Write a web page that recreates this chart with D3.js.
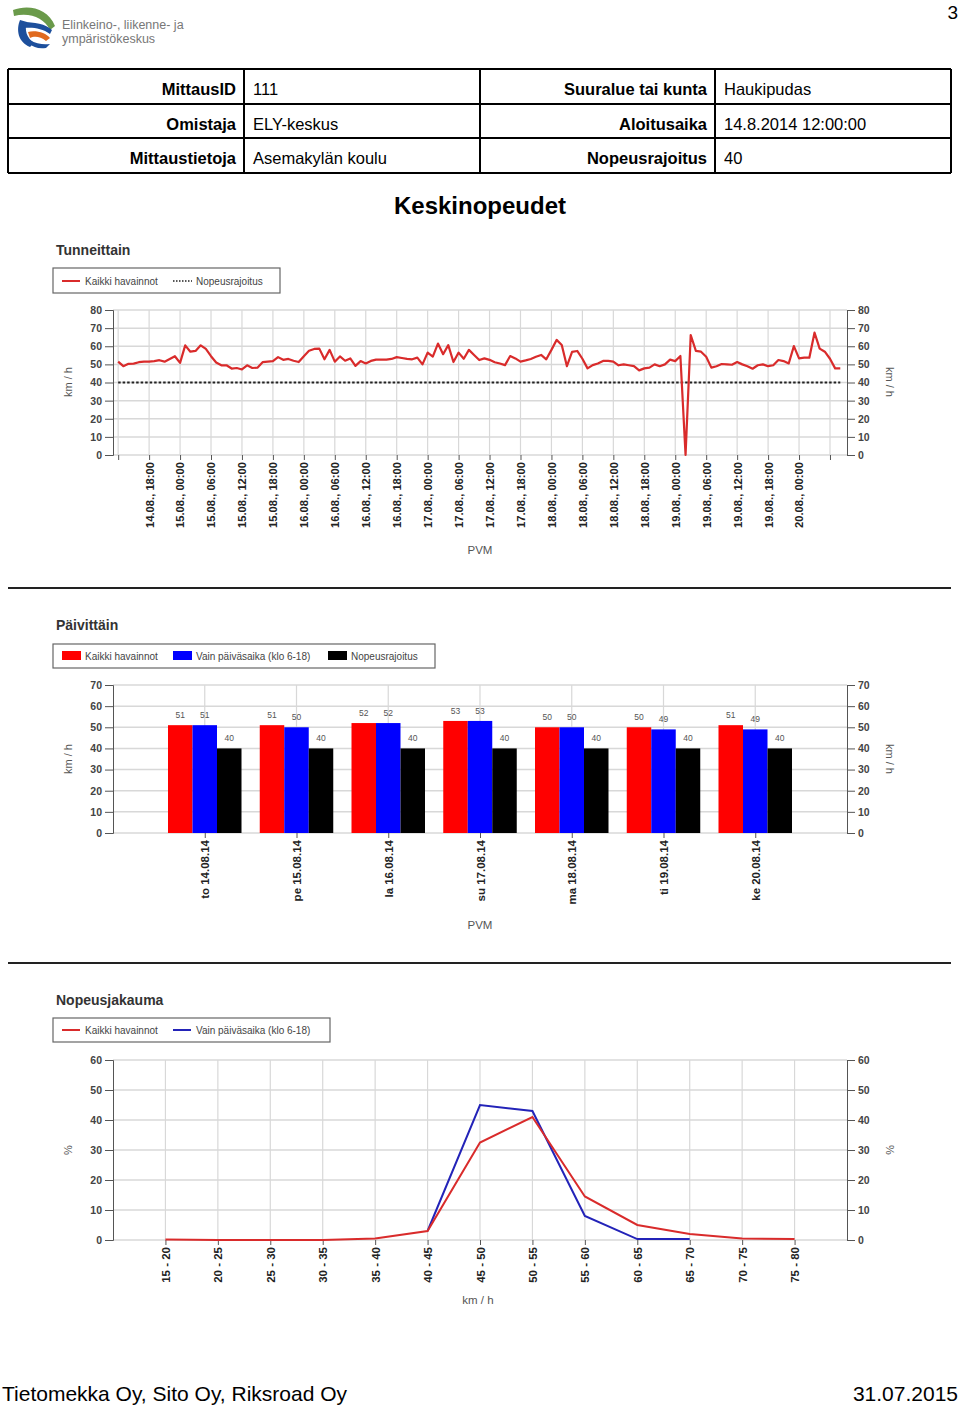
<!DOCTYPE html>
<html><head><meta charset="utf-8">
<script src="https://cdn.jsdelivr.net/npm/d3@7"></script>
<style>
html,body{margin:0;padding:0;background:#fff;}
svg{display:block;font-family:"Liberation Sans",Arial,sans-serif;}
</style></head>
<body>
<svg id="page" width="960" height="1407"></svg>
<script>
// ---------- DATA ----------
const tableRows = [
  ["MittausID","111","Suuralue tai kunta","Haukipudas"],
  ["Omistaja","ELY-keskus","Aloitusaika","14.8.2014 12:00:00"],
  ["Mittaustietoja","Asemakylän koulu","Nopeusrajoitus","40"]
];
// Hourly mean speed from 14.08 12:00 to 20.08 08:00
const hourlySpeed = [
  51.5,49,50.3,50.4,51.2,51.5,51.5,51.8,52.3,51.5,53,54.5,
  50.8,60.5,57,57.4,60.5,58.5,54.5,51,49.5,49.5,47.7,48,
  47.2,49.5,48,48.2,51.2,51.5,51.8,54,52.5,53,52,51.3,
  54.5,57.5,58.5,58.7,52.8,58,51.5,54.4,52,53.3,49.2,51.8,
  50.5,51.9,52.6,52.6,52.6,53,54,53.5,53,52.8,53.7,50,
  56.5,54.3,61.5,55.6,60.6,51.3,56.5,53.1,58,55.2,52.4,53.3,
  52.5,51.2,50.5,49.6,54.6,53.3,51.5,52.2,53,54.2,55.2,52.8,
  58,63.5,60.7,49,56.9,57.4,53.1,47.8,49.6,50.5,51.9,51.9,
  51.5,49.5,50,49.5,49,46.7,47.8,48.2,50,49,50,52.6,
  51.8,54.6,0,66.2,57.4,57,54.2,48.2,49,50.2,50,49.8,
  51.3,50,49,47.6,49.5,50,49,49.5,52.4,51.8,50.5,60.1,
  53.3,53.7,53.7,67.5,58.7,57,53.1,47.8,47.8
];
const speedLimit = 40;
const hourTickLabels = ["","14.08., 18:00","15.08., 00:00","15.08., 06:00","15.08., 12:00","15.08., 18:00",
  "16.08., 00:00","16.08., 06:00","16.08., 12:00","16.08., 18:00","17.08., 00:00","17.08., 06:00",
  "17.08., 12:00","17.08., 18:00","18.08., 00:00","18.08., 06:00","18.08., 12:00","18.08., 18:00",
  "19.08., 00:00","19.08., 06:00","19.08., 12:00","19.08., 18:00","20.08., 00:00",""];
const hourTickStep = 6;

const days = ["to 14.08.14","pe 15.08.14","la 16.08.14","su 17.08.14","ma 18.08.14","ti 19.08.14","ke 20.08.14"];
const dailyAll = [51,51,52,53,50,50,51];
const dailyDay = [51,50,52,53,50,49,49];
const dailyLimit = [40,40,40,40,40,40,40];

const speedClasses = ["15 - 20","20 - 25","25 - 30","30 - 35","35 - 40","40 - 45","45 - 50","50 - 55","55 - 60","60 - 65","65 - 70","70 - 75","75 - 80"];
const distAll = [0.2,0,0,0,0.5,3,32.5,41,14.5,5,2,0.5,0.3];
const distDay = [null,null,null,null,null,3,45,43,8,0.3,0.3,null,null];

const ticks80 = [0,10,20,30,40,50,60,70,80];
const ticks70 = [0,10,20,30,40,50,60,70];
const ticks60 = [0,10,20,30,40,50,60];

// ---------- DRAW ----------
const svg = d3.select("#page");
const FONT = '"Liberation Sans",Arial,sans-serif';
const RED = "#d92b2b", GRID = "#d8d8d8", AX = "#555";

// Logo
const logo = svg.append("g");
logo.append("path").attr("d","M13,10 C28,4 48,8 55,26 L50,30 C44,18 30,12 14,16 Z").attr("fill","#6a9a4a");
logo.append("path").attr("d","M20,20 C16,30 18,42 30,47 L34,43 C27,38 24,30 27,22 Z").attr("fill","#1d4f9c");
logo.append("path").attr("d","M22,22 C34,22 46,24 52,30 L50,34 C42,28 32,27 24,28 Z").attr("fill","#1d4f9c");
logo.append("path").attr("d","M28,32 C36,30 46,33 50,38 L46,41 C40,36 34,36 30,38 Z").attr("fill","#e06a1f");
logo.append("path").attr("d","M30,40 C36,44 44,45 50,44 L46,48 C38,49 33,47 30,44 Z").attr("fill","#1d4f9c");
logo.append("text").attr("x",62).attr("y",29).attr("font-size",12.5).attr("fill","#777").text("Elinkeino-, liikenne- ja");
logo.append("text").attr("x",62).attr("y",43).attr("font-size",12.5).attr("fill","#777").text("ympäristökeskus");

svg.append("text").attr("x",958).attr("y",19).attr("text-anchor","end").attr("font-size",19).text("3");

// Table
const colX = [8,244,480,715,951];
const rowY = [69,104,138,173];
const tbl = svg.append("g");
tableRows.forEach((r,i)=>{
  const yb = rowY[i]+26;
  tbl.append("text").attr("x",colX[1]-8).attr("y",yb).attr("text-anchor","end").attr("font-weight","bold").attr("font-size",16.5).text(r[0]);
  tbl.append("text").attr("x",colX[1]+9).attr("y",yb).attr("font-size",16.5).text(r[1]);
  tbl.append("text").attr("x",colX[3]-8).attr("y",yb).attr("text-anchor","end").attr("font-weight","bold").attr("font-size",16.5).text(r[2]);
  tbl.append("text").attr("x",colX[3]+9).attr("y",yb).attr("font-size",16.5).text(r[3]);
});
rowY.forEach(y=>tbl.append("line").attr("x1",colX[0]).attr("x2",colX[4]).attr("y1",y).attr("y2",y).attr("stroke","#000").attr("stroke-width",2));
colX.forEach(x=>tbl.append("line").attr("x1",x).attr("x2",x).attr("y1",rowY[0]).attr("y2",rowY[3]).attr("stroke","#000").attr("stroke-width",2));

svg.append("text").attr("x",480).attr("y",214).attr("text-anchor","middle").attr("font-weight","bold").attr("font-size",24).text("Keskinopeudet");

// separators
[588,963].forEach(y=>svg.append("line").attr("x1",8).attr("x2",951).attr("y1",y).attr("y2",y).attr("stroke","#222").attr("stroke-width",2));

// helpers
function yAxes(g, y, ticks, left, right, unit, unitY){
  ticks.forEach(t=>{
    g.append("line").attr("x1",left).attr("x2",right).attr("y1",y(t)).attr("y2",y(t)).attr("stroke",GRID).attr("stroke-width",1.5);
  });
  const la = g.append("g").attr("transform",`translate(${left},0)`).call(d3.axisLeft(y).tickValues(ticks).tickSize(8).tickPadding(3));
  const ra = g.append("g").attr("transform",`translate(${right},0)`).call(d3.axisRight(y).tickValues(ticks).tickSize(8).tickPadding(3));
  [la,ra].forEach(a=>{
    a.select(".domain").attr("stroke",AX);
    a.selectAll(".tick line").attr("stroke",AX);
    a.selectAll("text").attr("font-family",FONT).attr("font-size",10.5).attr("font-weight","bold").attr("fill","#444");
  });
  g.append("text").attr("transform",`translate(72,${unitY}) rotate(-90)`).attr("text-anchor","middle").attr("font-size",11).attr("fill","#555").text(unit);
  g.append("text").attr("transform",`translate(886,${unitY}) rotate(90)`).attr("text-anchor","middle").attr("font-size",11).attr("fill","#555").text(unit);
}
function title(t,y){ svg.append("text").attr("x",56).attr("y",y).attr("font-weight","bold").attr("font-size",14).attr("fill","#333").text(t); }
function legendBox(x,y,w,h){ svg.append("rect").attr("x",x).attr("y",y).attr("width",w).attr("height",h).attr("fill","#fff").attr("stroke","#666").attr("stroke-width",1.2); }
function legText(x,y,t){ svg.append("text").attr("x",x).attr("y",y).attr("font-size",10).attr("fill","#444").text(t); }

const L = 113, R = 847;

// ---------- Chart 1: Tunneittain ----------
title("Tunneittain",255);
legendBox(53,268,227,25);
svg.append("line").attr("x1",62).attr("x2",80).attr("y1",281).attr("y2",281).attr("stroke",RED).attr("stroke-width",2);
legText(85,285,"Kaikki havainnot");
svg.append("line").attr("x1",173).attr("x2",192).attr("y1",281).attr("y2",281).attr("stroke","#222").attr("stroke-width",1.5).attr("stroke-dasharray","1.5,1.5");
legText(196,285,"Nopeusrajoitus");

const g1 = svg.append("g");
const x1 = d3.scaleLinear().domain([-1,141.3]).range([L,R]);
const y1 = d3.scaleLinear().domain([0,80]).range([455,310]);
const tickHours = hourTickLabels.map((d,i)=>i*hourTickStep);
tickHours.forEach(h=>g1.append("line").attr("x1",x1(h)).attr("x2",x1(h)).attr("y1",310).attr("y2",455).attr("stroke",GRID).attr("stroke-width",1.2));
yAxes(g1,y1,ticks80,L,R,"km / h",382);
const xa1 = g1.append("g").attr("transform","translate(0,455)").call(d3.axisBottom(x1).tickValues(tickHours).tickSize(5).tickFormat((d,i)=>hourTickLabels[i]));
xa1.select(".domain").remove();
xa1.selectAll(".tick line").attr("stroke",AX);
xa1.selectAll("text").attr("font-family",FONT).attr("font-size",11.2).attr("font-weight","bold").attr("fill","#222")
  .attr("transform","rotate(-90)").attr("text-anchor","end").attr("y",0).attr("x",0)
  .attr("dy","0.35em").attr("dx","-7");
g1.append("line").attr("x1",x1(0)).attr("x2",x1(hourlySpeed.length-1)).attr("y1",y1(speedLimit)).attr("y2",y1(speedLimit))
  .attr("stroke","#222").attr("stroke-width",2).attr("stroke-dasharray","2.5,2");
g1.append("path").datum(hourlySpeed).attr("fill","none").attr("stroke",RED).attr("stroke-width",2.2).attr("stroke-linejoin","round")
  .attr("d",d3.line().x((d,i)=>x1(i)).y(d=>y1(d)));
g1.append("text").attr("x",480).attr("y",554).attr("text-anchor","middle").attr("font-size",11.5).attr("fill","#555").text("PVM");

// ---------- Chart 2: Päivittäin ----------
title("Päivittäin",630);
legendBox(53,644,382,24);
const legItems2 = [[62,"#f00","Kaikki havainnot"],[173,"#00f","Vain päiväsaika (klo 6-18)"],[328,"#000","Nopeusrajoitus"]];
legItems2.forEach(([x,c,t])=>{
  svg.append("rect").attr("x",x).attr("y",651).attr("width",19).attr("height",9).attr("fill",c);
  legText(x+23,660,t);
});
const g2 = svg.append("g");
const x2 = d3.scalePoint().domain(days).range([L,R]).padding(1);
const y2 = d3.scaleLinear().domain([0,70]).range([833,685]);
days.forEach(d=>g2.append("line").attr("x1",x2(d)).attr("x2",x2(d)).attr("y1",685).attr("y2",833).attr("stroke",GRID).attr("stroke-width",1.2));
yAxes(g2,y2,ticks70,L,R,"km / h",759);
const bw = 24.5;
const series2 = [[dailyAll,"#f00",-1.5],[dailyDay,"#00f",-0.5],[dailyLimit,"#000",0.5]];
series2.forEach(([vals,c,off])=>{
  days.forEach((d,i)=>{
    const x = x2(d)+off*bw;
    g2.append("rect").attr("x",x).attr("y",y2(vals[i])).attr("width",bw).attr("height",y2(0)-y2(vals[i])).attr("fill",c);
    g2.append("text").attr("x",x+bw/2).attr("y",y2(vals[i])-7).attr("text-anchor","middle").attr("font-size",8.5).attr("fill","#555").text(vals[i]);
  });
});
const xa2 = g2.append("g").attr("transform","translate(0,833)").call(d3.axisBottom(x2).tickSize(5));
xa2.select(".domain").remove();
xa2.selectAll(".tick line").attr("stroke",AX);
xa2.selectAll("text").attr("font-family",FONT).attr("font-size",11.5).attr("font-weight","bold").attr("fill","#222")
  .attr("transform","rotate(-90)").attr("text-anchor","end").attr("y",0).attr("x",0).attr("dy","0.35em").attr("dx","-7");
g2.append("text").attr("x",480).attr("y",929).attr("text-anchor","middle").attr("font-size",11.5).attr("fill","#555").text("PVM");

// ---------- Chart 3: Nopeusjakauma ----------
title("Nopeusjakauma",1005);
legendBox(53,1018,277,24);
svg.append("line").attr("x1",62).attr("x2",80).attr("y1",1030).attr("y2",1030).attr("stroke",RED).attr("stroke-width",2);
legText(85,1034,"Kaikki havainnot");
svg.append("line").attr("x1",173).attr("x2",191).attr("y1",1030).attr("y2",1030).attr("stroke","#2323b8").attr("stroke-width",2);
legText(196,1034,"Vain päiväsaika (klo 6-18)");
const g3 = svg.append("g");
const x3 = d3.scalePoint().domain(speedClasses).range([L,R]).padding(1);
const y3 = d3.scaleLinear().domain([0,60]).range([1240,1060]);
speedClasses.forEach(d=>g3.append("line").attr("x1",x3(d)).attr("x2",x3(d)).attr("y1",1060).attr("y2",1240).attr("stroke",GRID).attr("stroke-width",1.2));
yAxes(g3,y3,ticks60,L,R,"%",1150);
const xa3 = g3.append("g").attr("transform","translate(0,1240)").call(d3.axisBottom(x3).tickSize(5));
xa3.select(".domain").remove();
xa3.selectAll(".tick line").attr("stroke",AX);
xa3.selectAll("text").attr("font-family",FONT).attr("font-size",11.5).attr("font-weight","bold").attr("fill","#222")
  .attr("transform","rotate(-90)").attr("text-anchor","end").attr("y",0).attr("x",0).attr("dy","0.35em").attr("dx","-7");
const line3 = d3.line().defined(d=>d[1]!==null).x(d=>x3(d[0])).y(d=>y3(d[1]));
g3.append("path").datum(speedClasses.map((c,i)=>[c,distDay[i]])).attr("fill","none").attr("stroke","#2323b8").attr("stroke-width",2).attr("d",line3);
g3.append("path").datum(speedClasses.map((c,i)=>[c,distAll[i]])).attr("fill","none").attr("stroke",RED).attr("stroke-width",2).attr("d",line3);
g3.append("text").attr("x",478).attr("y",1304).attr("text-anchor","middle").attr("font-size",11.5).attr("fill","#555").text("km / h");

// Footer
svg.append("text").attr("x",2).attr("y",1401).attr("font-size",21).text("Tietomekka Oy, Sito Oy, Riksroad Oy");
svg.append("text").attr("x",958).attr("y",1401).attr("text-anchor","end").attr("font-size",21).text("31.07.2015");
</script>
</body></html>
